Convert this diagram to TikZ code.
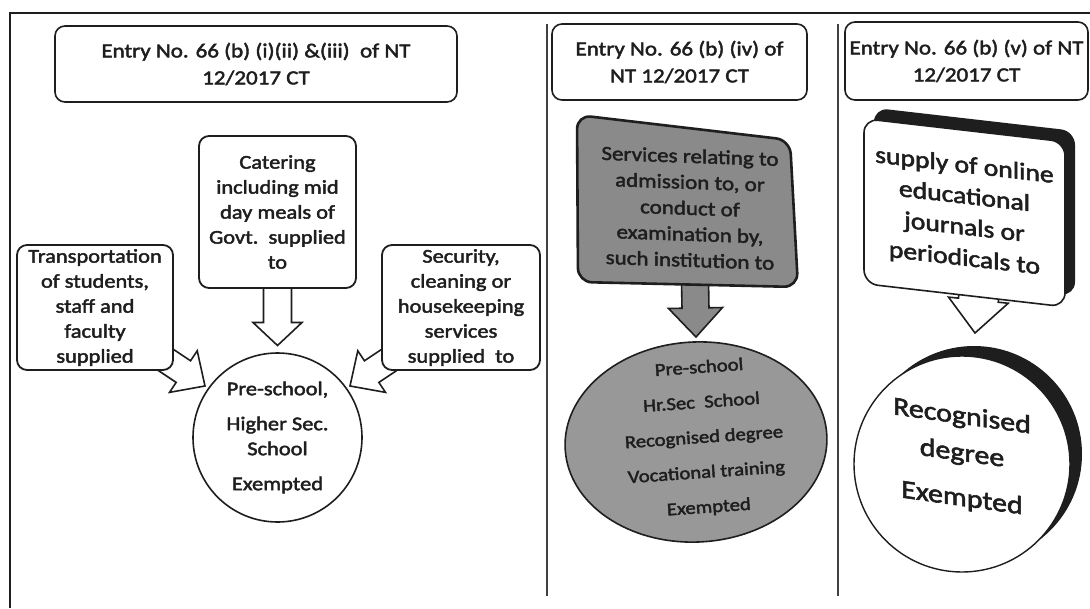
\documentclass[tikz,border=0pt]{standalone}
\usepackage{fontspec}
\setmainfont{Carlito}[FakeStretch=1.15,FakeBold=2.2]
\usetikzlibrary{calc,shapes.geometric}
\pgfdeclarelayer{back}
\pgfdeclarelayer{bg}
\pgfsetlayers{back,bg,main}
\definecolor{gboxc}{RGB}{138,138,138}
\definecolor{gellc}{RGB}{152,152,152}
\definecolor{ink}{RGB}{30,30,30}

% #1 style, #2 tail, #3 tip, #4 shaft half width, #5 head half width, #6 head length
\newcommand\blockarrow[6][]{%
  \draw[#1] let \p1=(#2), \p2=(#3),
    \n1={atan2(\y2-\y1,\x2-\x1)}, \n2={veclen(\x2-\x1,\y2-\y1)} in
    [shift={(\p1)}, rotate=\n1]
    (0,-#4) -- ({\n2-#6},-#4) -- ({\n2-#6},-#5) -- (\n2,0)
    -- ({\n2-#6},#5) -- ({\n2-#6},#4) -- (0,#4) -- cycle;}

\begin{document}
\begin{tikzpicture}[x=1pt,y=1pt,
  every node/.style={inner sep=0pt, outer sep=0pt, align=center, text=ink},
  hdr/.style={draw=ink, line width=1.6pt, rounded corners=10pt, fill=white,
    font=\fontsize{20}{27}\selectfont},
  pbox/.style={draw=ink, line width=1.8pt, rounded corners=10pt, fill=white,
    font=\fontsize{19.5}{25}\selectfont},
  barrow/.style={draw=ink, line width=1.6pt, fill=white},
  garrow/.style={draw=ink, line width=1.6pt, fill=gboxc},
  gbox/.style={draw=ink, line width=2.6pt, fill=gboxc, rounded corners=14pt},
  frameline/.style={draw=ink, line width=2pt},
  divider/.style={draw=ink!85, line width=1.5pt}]

\useasboundingbox (0,0) rectangle (1090,-608);
\begin{pgfonlayer}{back}
  \fill[white] (0,0) rectangle (1090,-608);
\end{pgfonlayer}

% frame and dividers
\draw[frameline] (10,-608) -- (10,-13) -- (1090,-13);
\draw[divider] (547,-24) -- (547,-596);
\draw[divider] (838,-24) -- (838,-596);

% headers
\node[hdr, minimum width=402, minimum height=76] (h1) at (256,-64)
  {Entry No. 66 (b) (i)(ii) \&(iii)\ \ of NT\\12/2017 CT};
\node[hdr, minimum width=255, minimum height=76] (h2) at (679.5,-62)
  {Entry No. 66 (b) (iv) of\\NT 12/2017 CT};
\node[hdr, minimum width=243, minimum height=78] (h3) at (966.5,-61)
  {Entry No. 66 (b) (v) of NT\\12/2017 CT};

% panel 1
\node[pbox, minimum width=157, minimum height=152] (cat) at (277.5,-212)
  {Catering\\including mid\\day meals of\\Govt.\ \ supplied\\to};
\node[pbox, minimum width=156, minimum height=125] (trans) at (95,-307.5)
  {Transportation\\of students,\\staff and\\faculty\\supplied};
\node[pbox, minimum width=158, minimum height=125] (sec) at (461,-307.5)
  {Security,\\cleaning or\\housekeeping\\services\\supplied\ \ to};
\node[circle, draw=ink, line width=1.6pt, fill=white, minimum size=169,
  font=\fontsize{19.5}{25}\selectfont] (c1) at (277.5,-437.5)
  {Pre-school,\\[10pt]Higher Sec.\\School\\[10pt]Exempted};

% panel 2
\coordinate (g1) at (577,-115);
\coordinate (g2) at (790,-140);
\coordinate (g3) at (798,-287);
\coordinate (g4) at (578,-282);
\draw[gbox] (g1) -- (g2) -- (g3) -- (g4) -- cycle;
\node[font=\fontsize{20}{26}\selectfont, cm={1,-0.035,0,1,(0,0)}] (b2) at (690,-208)
  {Services relating to\\admission to, or\\conduct of\\examination by,\\such institution to};
\node[ellipse, draw=ink, line width=1.6pt, fill=gellc, minimum width=262,
  minimum height=200, rotate=3] (el) at (696,-442) {};
\node[font=\fontsize{18}{35}\selectfont, rotate=4] (elt) at (704,-438)
  {Pre-school\\Hr.Sec\ \ School\\Recognised degree\\Vocational training\\Exempted};

% panel 3
\begin{scope}[shift={(964.5,-212.75)}, cm={1,-0.115,0,1,(0,0)}]
  \node[transform shape, fill=ink, rounded corners=14pt, minimum width=201,
    minimum height=165] (b3s) at (10,12) {};
  \node[transform shape, draw=ink, line width=1.6pt, fill=white, rounded corners=14pt,
    minimum width=201, minimum height=165, font=\fontsize{24}{31}\selectfont] (b3) at (0,0)
    {supply of online\\educational\\journals or\\periodicals to};
\end{scope}
\node[circle, fill=ink, minimum size=216] (c3s) at (974,-454) {};
\node[circle, draw=ink, line width=1.4pt, fill=white, minimum size=216] (c3) at (962,-464) {};
\node[font=\fontsize{26}{37}\selectfont, cm={1,-0.14,0,1,(0,0)}] (c3t) at (962,-458)
  {Recognised\\degree\\[8pt]Exempted};

% block arrows (under the boxes)
\begin{pgfonlayer}{bg}
  \coordinate (a1s) at ($(cat.south)+(0,8)$);
  \coordinate (a1e) at ($(c1.north)+(0,7.5)$);
  \coordinate (a2s) at ($(trans.south east)+(-22,20)$);
  \coordinate (a2e) at ($(c1.center)+(-72.5,51.5)$);
  \coordinate (a3s) at ($(sec.south west)+(22,20)$);
  \coordinate (a3e) at ($(c1.center)+(72.5,51.5)$);
  \coordinate (a4s) at ($(b2.center)+(5,-72)$);
  \coordinate (a4e) at ($(el.center)+(0,105)$);
  \coordinate (a5s) at ($(b3.center)+(18.5,-42.25)$);
  \coordinate (a5e) at ($(c3.center)+(13,131)$);
  \blockarrow[barrow]{a1s}{a1e}{14}{24.5}{23}
  \blockarrow[barrow]{a2s}{a2e}{13}{25}{26}
  \blockarrow[barrow]{a3s}{a3e}{13}{25}{26}
  \blockarrow[garrow]{a4s}{a4e}{13.5}{27}{29}
  \blockarrow[barrow]{a5s}{a5e}{20}{30}{33}
\end{pgfonlayer}
\end{tikzpicture}
\end{document}
